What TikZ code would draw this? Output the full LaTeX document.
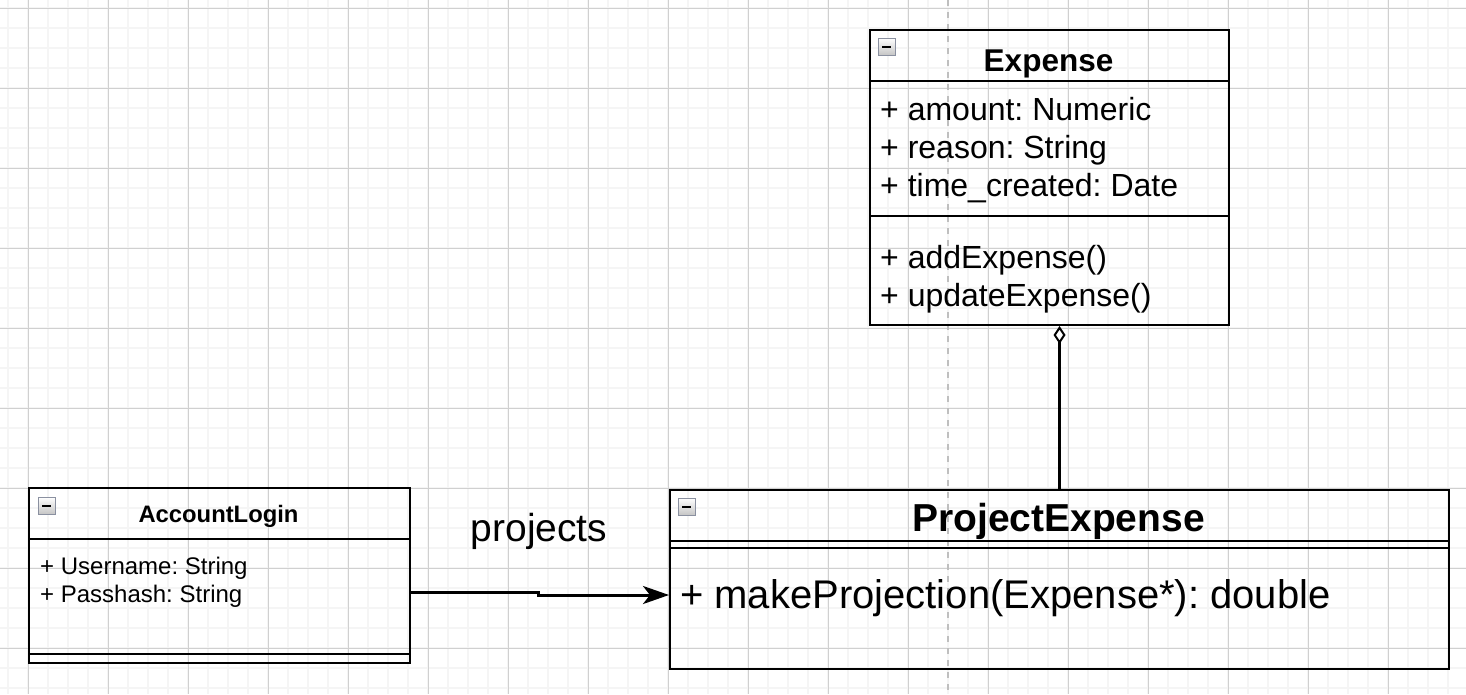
\documentclass[tikz,border=0pt]{standalone}
\usepackage{fontspec}
\setmainfont{Liberation Sans}
\usetikzlibrary{arrows.meta}
\definecolor{minorc}{HTML}{F5F5F5}
\definecolor{majorc}{HTML}{D0D0D0}
\definecolor{iconb}{HTML}{8A90A0}
\frenchspacing
\tikzset{
  box/.style={draw=black, line width=2pt, rectangle, anchor=north west, inner sep=0pt},
  sepline/.style={line width=2pt},
  txt/.style={anchor=base west, inner sep=0pt},
  ttl/.style={anchor=base, inner sep=0pt},
  conn/.style={line width=3pt},
  icon/.style={draw=iconb, top color=white, bottom color=gray!45, line width=1pt},
  minorl/.style={draw=minorc, line width=1.5pt},
  majorl/.style={draw=majorc, line width=1pt},
}
\newcommand{\collapseicon}[2]{%
  \shade[icon] (#1,#2) rectangle ++(17,17);
  \draw[line width=2pt] (#1+4,#2+8.5) -- (#1+13,#2+8.5);
}
\begin{document}
\begin{tikzpicture}[x=1pt,y=-1pt]
\useasboundingbox (0,0) rectangle (1466,694);
\fill[white] (0,0) rectangle (1466,694);
% grid
\foreach \x in {8,28,...,1466} \draw[minorl] (\x,0) -- (\x,694);
\foreach \y in {8,28,...,694} \draw[minorl] (0,\y) -- (1466,\y);
\foreach \x in {28,108,...,1466} \draw[majorl] (\x,0) -- (\x,694);
\foreach \y in {8,88,...,694} \draw[majorl] (0,\y) -- (1466,\y);
% dashed guide
\draw[draw=gray!50, line width=2pt, dash pattern=on 6pt off 6pt] (948,0) -- (948,694);

% Expense
\node[box, minimum width=359pt, minimum height=295pt] (exp) at (869,29) {};
\draw[sepline] (exp.west |- 0,81) -- (exp.east |- 0,81);
\draw[sepline] (exp.west |- 0,216) -- (exp.east |- 0,216);
\collapseicon{878}{38}
\begin{scope}[font=\fontsize{32}{38}\selectfont]
\node[ttl, font=\fontsize{31.5}{38}\selectfont\bfseries] (expt) at (1048.5,71.5) {Expense};
\node[txt] (expa1) at (880,120) {+ amount: Numeric};
\node[txt] (expa2) at (880,158) {+ reason: String};
\node[txt] (expa3) at (880,196) {+ time\_created: Date};
\node[txt] (expm1) at (880,268) {+ addExpense()};
\node[txt] (expm2) at (880,306) {+ updateExpense()};
\end{scope}

% ProjectExpense
\node[box, minimum width=779pt, minimum height=179pt] (pe) at (669,489) {};
\draw[sepline] (pe.west |- 0,541) -- (pe.east |- 0,541);
\draw[sepline] (pe.west |- 0,548) -- (pe.east |- 0,548);
\collapseicon{678}{498}
\node[ttl, font=\fontsize{39}{46}\selectfont\bfseries] (pet) at (1058.5,531) {ProjectExpense};
\node[txt, font=\fontsize{40}{48}\selectfont] (pem) at (680,608) {+ makeProjection(Expense*): double};

% AccountLogin
\node[box, minimum width=381pt, minimum height=175pt] (acc) at (28,487) {};
\draw[sepline] (acc.west |- 0,539) -- (acc.east |- 0,539);
\draw[sepline] (acc.west |- 0,654) -- (acc.east |- 0,654);
\collapseicon{38}{497}
\node[ttl, font=\fontsize{23.8}{28}\selectfont\bfseries] (acct) at (218.5,522) {AccountLogin};
\node[txt, font=\fontsize{24}{28}\selectfont] (acca1) at (40,574.5) {+ Username: String};
\node[txt, font=\fontsize{24}{28}\selectfont] (acca2) at (40,602) {+ Passhash: String};

% connectors
\coordinate (a1) at (538,592);
\coordinate (a2) at (538,595);
\draw[conn, -{Stealth[length=26pt, width=18pt, inset=7pt]}]
  (acc.east |- a1) -- (a1) -- (a2) -- (pe.west |- a2);
\node[ttl, font=\fontsize{39}{46}\selectfont] (lbl) at (539,541) {projects};

\draw[conn, -{Diamond[open, length=18pt, width=12pt, line width=2pt]}]
  (pe.north) -- (pe.north |- exp.south);
\end{tikzpicture}
\end{document}
